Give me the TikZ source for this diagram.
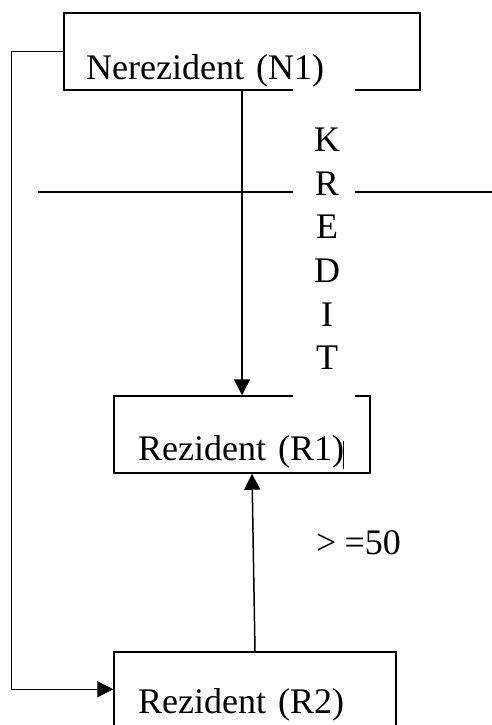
\documentclass[tikz,border=0pt]{standalone}
\usepackage{fontspec}
\setmainfont{Liberation Serif}
\usetikzlibrary{arrows.meta,positioning}
\begin{document}
\begin{tikzpicture}[x=1pt,y=-1pt,
  box/.style={draw,line width=1.5pt,minimum width=#1,inner sep=0pt},
  lbl/.style={font=\fontsize{36}{43.6}\selectfont,inner sep=0pt},
  conn/.style={line width=1.5pt},
  arr/.style={conn,-{Triangle[length=16pt,width=16pt]}}]
\useasboundingbox (0,0) rectangle (492,725);
\clip (0,0) rectangle (492,725);
% boxes
\node[box=356pt,minimum height=77pt] (n1) at (242,51.5) {};
\node[box=256pt,minimum height=77pt] (r1) at (242,434.5) {};
\node[box=282pt,minimum height=88pt] (r2) at (255,696) {};
% horizontal line
\coordinate (hl) at (38,192);
\coordinate (hr) at (492,192);
\draw[conn] (hl) -- (hr);
% mask behind KREDIT
\fill[white] (293,88.5) rectangle (355,397.5);
% texts
\node[lbl,anchor=base west] (tn1) at (86,79) {Nerezident\hspace{3pt} (N1)};
\node[lbl,anchor=base west] (tr1) at (138,460) {Rezident\hspace{3pt} (R1)};
\node[lbl,anchor=base west] (tr2) at (138,713) {Rezident\hspace{3pt} (R2)};
\node[lbl,align=center] (kredit) at (327,249) {K\\R\\E\\D\\I\\T};
\node[lbl,anchor=base west] (cond) at (316,554) {>\hspace{8pt}=50};
% cursor mark
\draw[line width=1pt] ([xshift=101pt,yshift=-6.5pt]r1.center) -- ([xshift=101pt,yshift=-34.5pt]r1.center);
% connectors
\draw[arr] (n1.south) -- (r1.north);
\draw[arr] (r2.north) -- ([xshift=10pt]r1.south);
\draw[arr] (n1.west) -- ++(-52,0) |- ([yshift=-38pt]r2.north west);
\end{tikzpicture}
\end{document}
